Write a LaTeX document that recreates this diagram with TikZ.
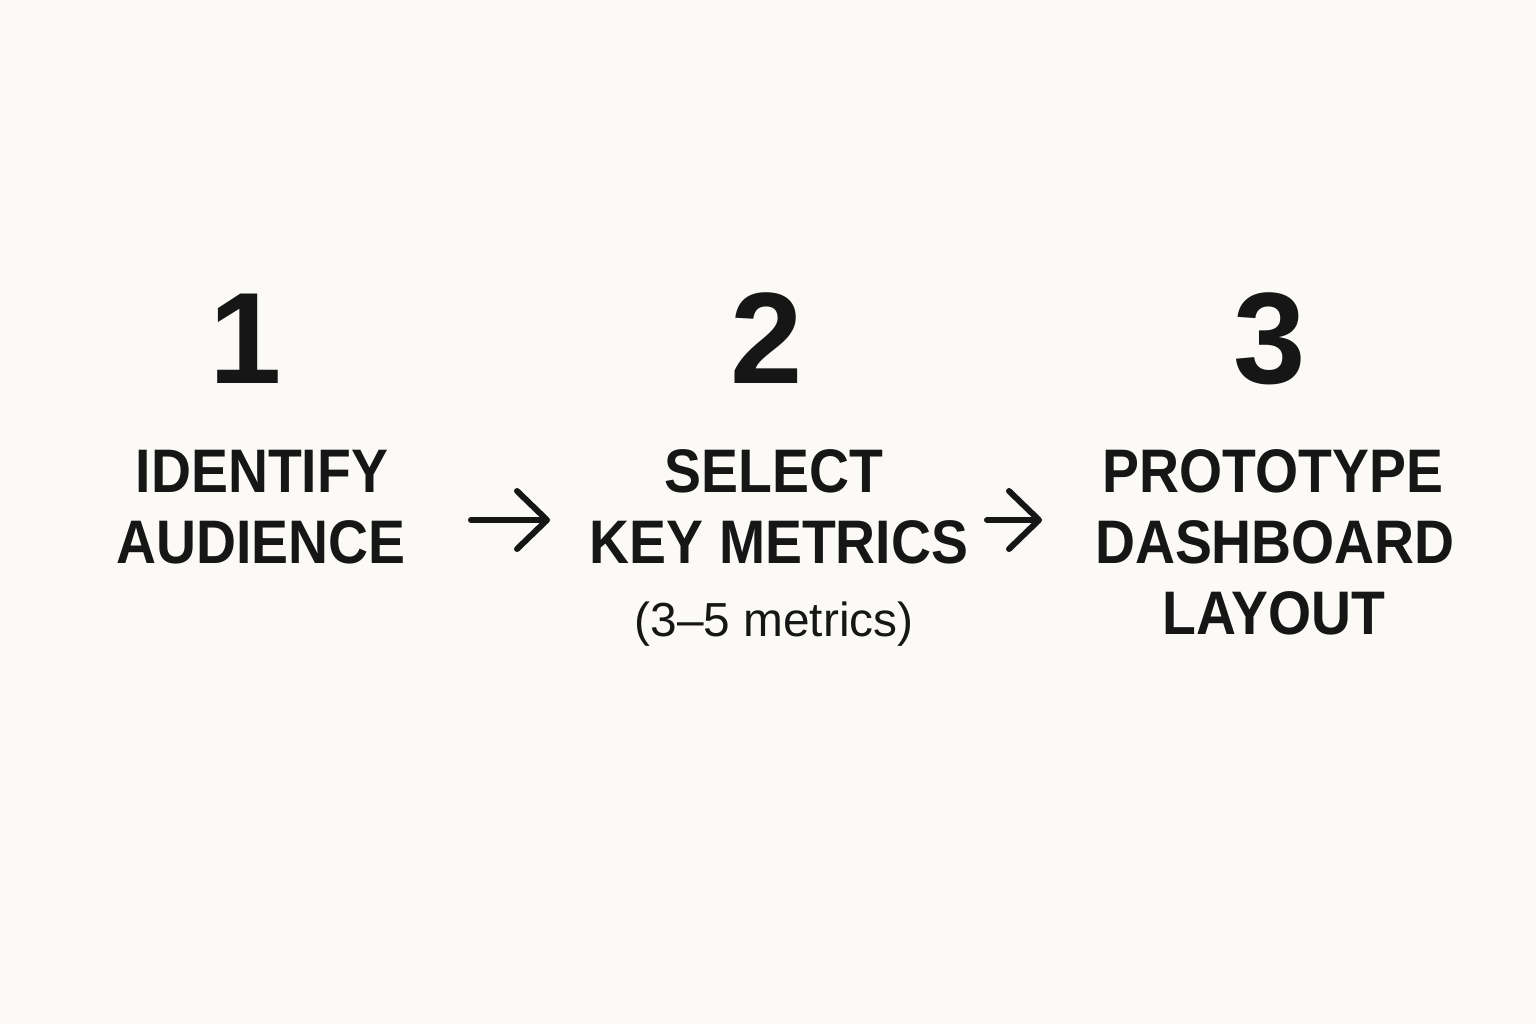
\documentclass[tikz,border=0pt]{standalone}
\usepackage{fontspec}
\setmainfont{Liberation Sans}
\newfontfamily\stepfont[FakeStretch=0.9]{Liberation Sans}
\usepackage{xcolor}
\usetikzlibrary{arrows.meta, positioning}
\definecolor{fondo}{HTML}{FBFAF6}
\definecolor{tinta}{HTML}{161616}

\begin{document}
\begin{tikzpicture}[>={Straight Barb[length=0.3cm,width=0.58cm,round]}, line width=0.06cm, line cap=round,
  num/.style={anchor=base, inner sep=0, text=tinta, font=\fontsize{37}{40}\selectfont\bfseries},
  paso/.style={anchor=base, inner sep=0, text=tinta, font=\stepfont\fontsize{17.5}{20}\selectfont\bfseries},
  nota/.style={anchor=base, inner sep=0, text=tinta, font=\fontsize{13.6}{16}\selectfont}]
\fill[fondo] (0,0) rectangle (15.36,-10.24);
\useasboundingbox (0,0) rectangle (15.36,-10.24);

% Numeros
\node[num] (n1) at (2.46,-3.83) {1};
\node[num] (n2) at (7.67,-3.83) {2};
\node[num] (n3) at (12.70,-3.83) {3};

% Pasos
\node[paso] (p1a) at (2.62,-4.92) {IDENTIFY};
\node[paso] (p1b) at (2.61,-5.63) {AUDIENCE};
\node[paso] (p2a) at (7.74,-4.92) {SELECT};
\node[paso] (p2b) at (7.79,-5.63) {KEY METRICS};
\node[nota] (p2c) at (7.74,-6.36) {(3–5 metrics)};
\node[paso] (p3a) at (12.73,-4.92) {PROTOTYPE};
\node[paso] (p3b) at (12.75,-5.63) {DASHBOARD};
\node[paso] (p3c) at (12.74,-6.34) {LAYOUT};

% Flechas
\coordinate (f1s) at (4.71,-5.20);
\coordinate (f1e) at (5.50,-5.20);
\coordinate (f2s) at (9.87,-5.20);
\coordinate (f2e) at (10.42,-5.20);
\draw[->, tinta] (f1s) -- (f1e);
\draw[->, tinta] (f2s) -- (f2e);
\end{tikzpicture}
\end{document}
